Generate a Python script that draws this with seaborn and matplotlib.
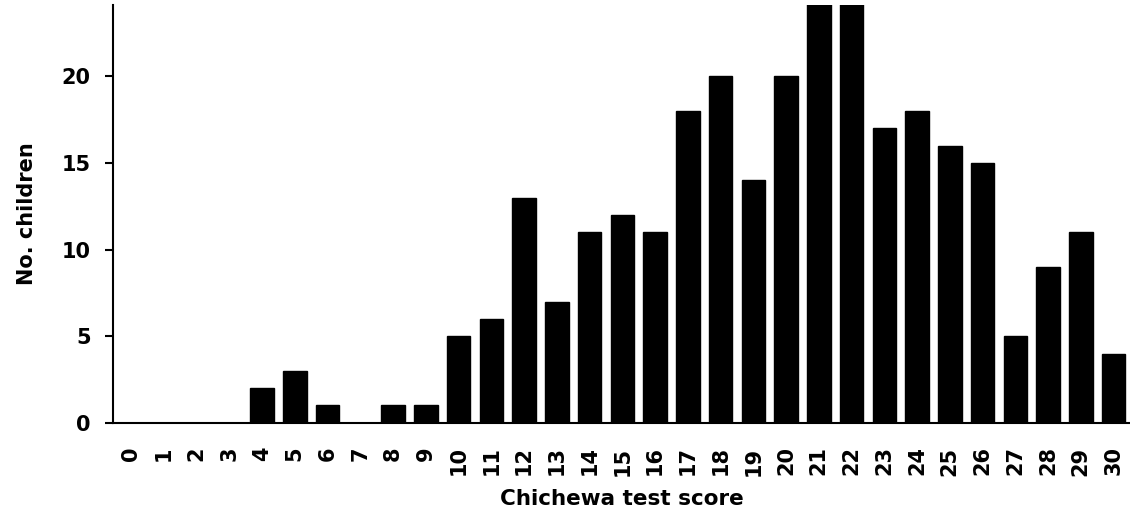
import matplotlib
matplotlib.use("Agg")
import matplotlib.pyplot as plt
import seaborn as sns
import pandas as pd

scores = list(range(31))
children = [0, 0, 0, 0, 2, 3, 1, 0, 1, 1, 5, 6, 13, 7, 11, 12, 11, 18, 20, 14,
            20, 27, 26, 17, 18, 16, 15, 5, 9, 11, 4]
y_ticks = [0, 5, 10, 15, 20]

sns.set_theme(style="ticks")
plt.rcParams['font.family'] = ['DejaVu Sans']
plt.rcParams['font.weight'] = 'bold'
plt.rcParams['text.color'] = 'black'
plt.rcParams['xtick.color'] = 'black'
plt.rcParams['ytick.color'] = 'black'
plt.rcParams['axes.labelcolor'] = 'black'

df = pd.DataFrame({"score": [str(s) for s in scores], "n": children})

fig = plt.figure(figsize=(11.3, 5.22), dpi=100)
ax = fig.add_axes([0.1, 0.19, 0.9, 0.80])
sns.barplot(data=df, x="score", y="n", order=[str(s) for s in scores],
            color="black", width=0.72, saturation=1, ax=ax, edgecolor="black")

ax.set_ylim(0, 24.1)
ax.set_xlim(-0.55, 30.5)
ax.set_yticks(y_ticks)
ax.set_yticklabels([str(t) for t in y_ticks], fontsize=15, fontweight='bold')
ax.set_xticks(range(31))
ax.set_xticklabels([str(s) for s in scores], rotation=90, fontsize=15, fontweight='bold')
ax.tick_params(axis='x', length=0, pad=17)
ax.tick_params(axis='y', length=6, width=1.5, direction='out', pad=10, colors='black')
for side in ['top', 'right']:
    ax.spines[side].set_visible(False)
for side in ['left', 'bottom']:
    ax.spines[side].set_linewidth(1.5)
    ax.spines[side].set_color('black')

ax.set_xlabel("Chichewa test score", fontsize=15.5, fontweight='bold', labelpad=10)
ax.set_ylabel("No. children", fontsize=15, fontweight='bold', labelpad=18)

fig.savefig("out.png", dpi=100)
